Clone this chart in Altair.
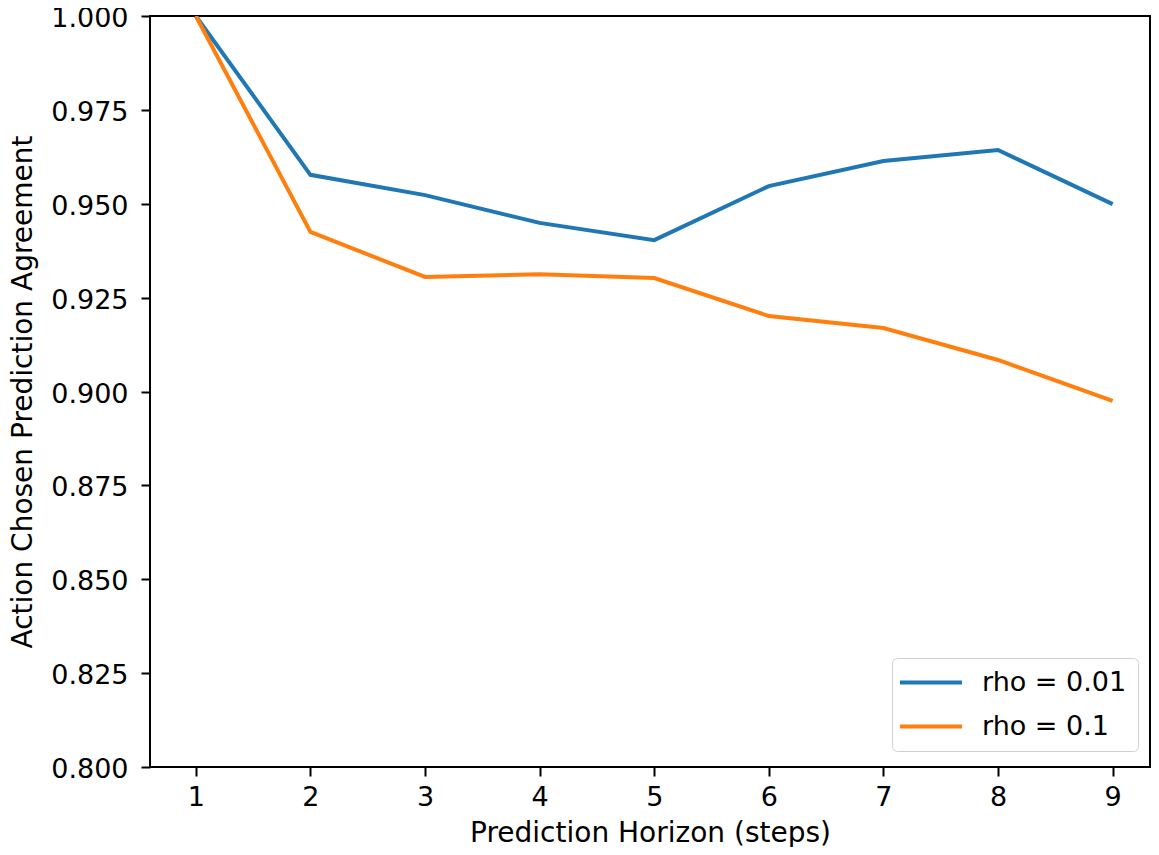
import altair as alt
import pandas as pd

steps = [1, 2, 3, 4, 5, 6, 7, 8, 9]
rho_001 = [1.000, 0.9577, 0.9523, 0.9449, 0.9403, 0.9547, 0.9614, 0.9643, 0.9499]
rho_01 = [1.000, 0.9425, 0.9305, 0.9312, 0.9302, 0.9201, 0.9169, 0.9084, 0.8975]
series_names = ["rho = 0.01", "rho = 0.1"]
y_ticks = [0.800, 0.825, 0.850, 0.875, 0.900, 0.925, 0.950, 0.975, 1.000]

rows = []
for s, v in zip(steps, rho_001):
    rows.append({"step": s, "value": v, "series": series_names[0]})
for s, v in zip(steps, rho_01):
    rows.append({"step": s, "value": v, "series": series_names[1]})
df = pd.DataFrame(rows)

FONT = "DejaVu Sans"
FS = 27
TFS = 28

chart = alt.Chart(df).mark_line(strokeWidth=4, clip=True).encode(
    x=alt.X("step:Q",
            scale=alt.Scale(domain=[0.6, 9.326], nice=False, zero=False),
            axis=alt.Axis(values=steps, format="d", title="Prediction Horizon (steps)",
                          grid=False, tickSize=9, tickWidth=2, tickColor="black",
                          domain=False, labelFontSize=FS, labelColor="black",
                          labelPadding=8, titleFontSize=TFS, titleColor="black",
                          titleFontWeight="normal", titlePadding=9, labelFont=FONT,
                          titleFont=FONT)),
    y=alt.Y("value:Q",
            scale=alt.Scale(domain=[0.8, 1.0], nice=False, zero=False),
            axis=alt.Axis(values=y_ticks, format=".3f",
                          title="Action Chosen Prediction Agreement",
                          grid=False, tickSize=9, tickWidth=2, tickColor="black",
                          domain=False, labelFontSize=FS, labelColor="black",
                          labelPadding=13, labelOffset=2.5, titleFontSize=TFS,
                          titleColor="black", titleFontWeight="normal", titlePadding=13,
                          labelFont=FONT, titleFont=FONT)),
    color=alt.Color("series:N",
                    scale=alt.Scale(domain=series_names, range=["#1f77b4", "#ff7f0e"]),
                    legend=alt.Legend(title=None, orient="none", legendX=742, legendY=642,
                                      symbolType="M-1.6,0H4.4", symbolSize=427,
                                      symbolStrokeWidth=4, labelFontSize=FS,
                                      labelFont=FONT, labelColor="black",
                                      labelOffset=52, rowPadding=16,
                                      padding=11, strokeColor="#d0d0d0",
                                      fillColor="white", cornerRadius=5)),
).properties(
    width=1000,
    height=751,
    autosize=alt.AutoSizeParams(type="none"),
    padding={"left": 142, "top": 8, "right": 1, "bottom": 80},
    background="white",
).configure_view(
    stroke="black", strokeWidth=2
)

chart.save("out.html", embed_options={"renderer": "svg", "actions": False})
